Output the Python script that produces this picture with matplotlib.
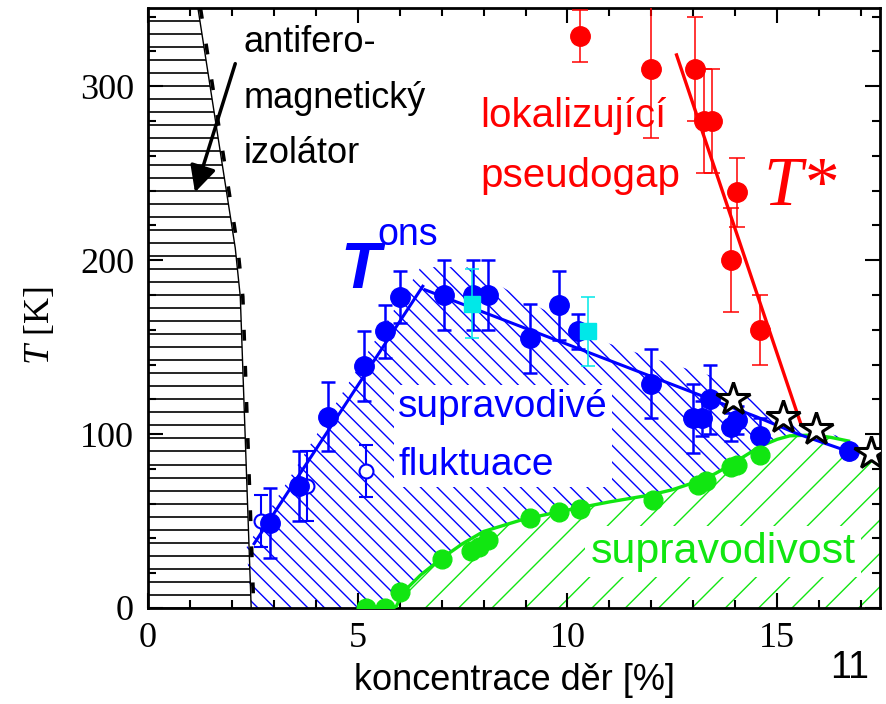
import numpy as np
import matplotlib
matplotlib.use("Agg")
import matplotlib.pyplot as plt
from matplotlib.patches import Polygon
from matplotlib.ticker import MultipleLocator

plt.rcParams['font.family'] = ['Liberation Sans', 'DejaVu Sans']
plt.rcParams['mathtext.fontset'] = 'custom'
plt.rcParams['mathtext.rm'] = 'Liberation Serif'
plt.rcParams['mathtext.it'] = 'Liberation Serif:italic'
plt.rcParams['hatch.linewidth'] = 1.0

BLUE = '#0000ff'
RED = '#ff0000'
GREEN = '#11e611'
CYAN = '#00e8e8'

# T_ons, filled blue circles
x_ons = [2.9, 3.6, 4.3, 5.15, 5.65, 6.0, 7.05, 7.75, 8.1, 9.1, 9.8, 10.25, 12.0, 13.0, 13.2, 13.4, 13.9, 14.05, 14.6, 16.7]
y_ons = [49, 70, 110, 139, 159, 179, 180, 180, 180, 155, 174, 159, 129, 109, 109, 120, 104, 108, 99, 90]
e_ons = [20, 20, 20, 20, 15, 15, 20, 20, 20, 20, 20, 10, 20, 20, 10, 20, 8, 8, 10, 0]
# open blue circles
x_open = [2.7, 3.8, 5.2]
y_open = [50, 70, 79]
e_open = [15, 20, 15]
# cyan squares
x_sq = [7.73, 10.48]
y_sq = [175, 159]
e_sq = [20, 20]
# T*, red circles
x_ts = [10.3, 12.0, 13.05, 13.25, 13.45, 14.05, 13.9, 14.6]
y_ts = [329, 310, 310, 280, 280, 239, 200, 160]
e_ts = [15, 40, 30, 30, 30, 20, 30, 20]
# Tc, green circles
x_tc = [5.2, 5.65, 6.0, 7.0, 7.7, 7.9, 8.1, 9.1, 9.8, 10.3, 12.05, 13.1, 13.3, 13.9, 14.05, 14.6]
y_tc = [0, 0, 9, 28, 33, 35, 39, 52, 55, 57, 62, 71, 73, 81, 82, 88]
# stars
x_star = [13.95, 15.13, 15.92, 17.23]
y_star = [120, 110, 103, 89]

# lines
x_ons_fit1 = [2.53, 6.55]
y_ons_fit1 = [37, 185]
x_ons_fit2 = [6.6, 14.5, 15.5, 16.7]
y_ons_fit2 = [183, 110, 100, 90]
x_ts_fit = [12.6, 15.56]
y_ts_fit = [318, 106]
x_tc_curve = [5.9, 6.08, 6.5, 6.97, 7.5, 8.0, 8.95, 10.14, 11.0, 11.98, 12.5, 13.0, 13.5, 13.8, 14.2, 14.6, 15.0, 15.3, 15.9, 16.3, 16.7]
y_tc_curve = [0, 9, 19, 28, 37, 44, 51, 57, 61, 65, 68, 72, 77, 81, 87, 93, 97, 99, 99.5, 98, 96]

# region borders
x_af = [1.19, 2.08, 2.2, 2.46]
y_af = [345, 207, 179, 0]
x_fl = [2.46, 2.35, 6.5, 7.6, 9.0, 11.0, 12.5, 13.5, 14.5, 15.5, 16.3, 16.8, 16.8]
y_fl = [0, 35, 196, 196, 177, 152, 140, 133, 118, 106, 100, 96, 0]

XMAX, YMAX = 17.45, 345

fig = plt.figure(figsize=(8.87, 7.04), dpi=100)
ax = fig.add_axes([148/887, 96/704, 732/887, 600/704])
ax.set_xlim(0, XMAX)
ax.set_ylim(0, YMAX)

# antiferromagnetic region
af = Polygon([(0, 0), (0, YMAX)] + list(zip(x_af, y_af)), closed=True,
             facecolor='none', edgecolor='k', lw=1, zorder=2)
ax.add_patch(af)
hl = ax.hlines(np.arange(7.5, YMAX, 7.5), 0, 3, colors='k', lw=1.2, zorder=2)
hl.set_clip_path(af)
ax.plot(np.array(x_af) + 0.06, y_af, color='k', lw=2.6, ls=(0, (3, 7)), zorder=2)

# fluctuation region
ax.add_patch(Polygon(list(zip(x_fl, y_fl)), closed=True, facecolor='none',
                     edgecolor=BLUE, lw=0, hatch='\\\\', zorder=1))
# superconducting region
sc = list(zip(x_tc_curve, y_tc_curve)) + [(XMAX, 86), (XMAX, 0)]
ax.add_patch(Polygon(sc, closed=True, facecolor='white', edgecolor=GREEN,
                     lw=0, hatch='/', zorder=1.5))

ax.plot(x_tc_curve, y_tc_curve, color=GREEN, lw=2.4, zorder=4)
ax.plot(x_ons_fit1, y_ons_fit1, color=BLUE, lw=2.2, zorder=4)
ax.plot(x_ons_fit2, y_ons_fit2, color=BLUE, lw=2.2, zorder=4)
ax.plot(x_ts_fit, y_ts_fit, color=RED, lw=2.4, zorder=4)

ax.errorbar(x_ts, y_ts, yerr=e_ts, fmt='o', color=RED, ms=14, elinewidth=1.1,
            capsize=6, capthick=1.1, zorder=5)
ax.errorbar(x_open, y_open, yerr=e_open, fmt='o', color=BLUE, mfc='white', mew=1.5,
            ms=10, elinewidth=1.5, capsize=5, capthick=1.5, zorder=5)
ax.errorbar(x_ons, y_ons, yerr=e_ons, fmt='o', color=BLUE, ms=14, elinewidth=1.8,
            capsize=5, capthick=1.8, zorder=5)
ax.errorbar(x_sq, y_sq, yerr=e_sq, fmt='s', color=CYAN, ms=11, elinewidth=1.1,
            capsize=5, capthick=1.1, zorder=6)
ax.plot(x_tc, y_tc, 'o', color=GREEN, ms=13.5, zorder=6)
ax.plot(x_star, y_star, '*', mfc='white', mec='k', mew=2.2, ms=25, zorder=7)

ax.annotate('', xy=(1.12, 239), xytext=(2.08, 313),
            arrowprops=dict(arrowstyle='-|>', color='k', lw=2.5,
                            mutation_scale=40, shrinkA=0, shrinkB=0), zorder=6)

# multiline texts: y is the baseline of the last line
ax.text(2.27, 256, 'antifero-\nmagnetický\nizolátor', fontsize=26,
        va='baseline', linespacing=1.75, zorder=3)
ax.text(7.92, 242, 'lokalizující\npseudogap', fontsize=29, color=RED,
        va='baseline', linespacing=1.75, zorder=3)
ax.text(14.68, 232, 'T*', fontsize=50, color=RED, family='Liberation Serif',
        style='italic', va='baseline', zorder=3)
ax.text(4.58, 184, 'T', fontsize=47, color=BLUE, style='italic', weight='bold',
        va='baseline', zorder=3)
ax.text(5.47, 208.5, 'ons', fontsize=27, color=BLUE, va='baseline', zorder=3)
ax.text(5.97, 76.5, 'supravodivé\nfluktuace', fontsize=28, color=BLUE, va='baseline',
        linespacing=1.78, zorder=3,
        bbox=dict(facecolor='white', edgecolor='none', pad=3))
ax.text(10.55, 26, 'supravodivost', fontsize=31, color=GREEN, va='baseline', zorder=3,
        bbox=dict(facecolor='white', edgecolor='none', pad=4))

ax.xaxis.set_major_locator(MultipleLocator(5))
ax.xaxis.set_minor_locator(MultipleLocator(1))
ax.yaxis.set_major_locator(MultipleLocator(100))
ax.yaxis.set_minor_locator(MultipleLocator(20))
ax.tick_params(which='both', direction='in', top=True, right=True, width=1.5,
               labelsize=26, pad=10)
ax.tick_params(which='major', length=11)
ax.tick_params(which='minor', length=6)
for lab in ax.get_xticklabels() + ax.get_yticklabels():
    lab.set_family('Liberation Serif')
for sp in ax.spines.values():
    sp.set_linewidth(2)

ax.set_xlabel('koncentrace děr [%]', fontsize=26, labelpad=6)
ax.set_ylabel('$T$ [K]', fontsize=26, family='Liberation Serif')
ax.yaxis.set_label_coords(-0.125, 0.47)
fig.text(0.958, 0.037, '11', fontsize=27, ha='center', va='baseline')

fig.savefig('out.png', dpi=100)
